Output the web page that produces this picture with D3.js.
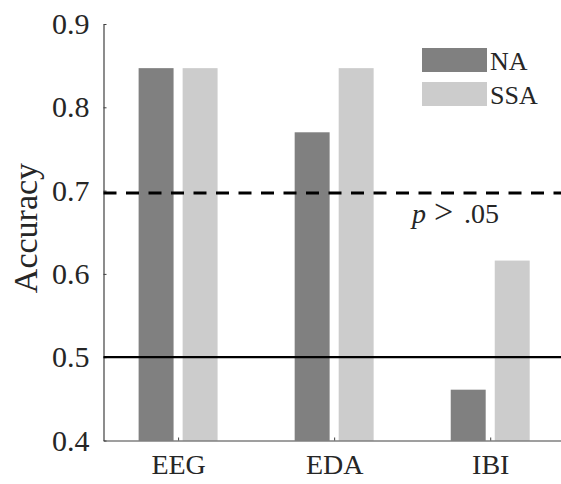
<!DOCTYPE html>
<html>
<head>
<meta charset="utf-8">
<script src="https://d3js.org/d3.v7.min.js"></script>
<style>
  body { margin: 0; background: #fff; }
  text { font-family: "Times New Roman", Times, "Liberation Serif", serif; fill: #262626; }
</style>
</head>
<body>
<div id="chart"></div>
<script>
var categories = ["EEG", "EDA", "IBI"];
var seriesNames = ["NA", "SSA"];
var naValues = [0.847, 0.770, 0.461];
var ssaValues = [0.847, 0.847, 0.616];
var yTicks = [0.4, 0.5, 0.6, 0.7, 0.8, 0.9];
var chanceLevel = 0.5;
var significanceLevel = 0.697;
var significanceLabel = ".05";

var colors = { NA: "#808080", SSA: "#cccccc" };
var serif = '"Times New Roman", Times, "Liberation Serif", serif';

var data = [];
categories.forEach(function(c, i) {
    data.push({ cat: i + 1, series: "NA", value: naValues[i] });
    data.push({ cat: i + 1, series: "SSA", value: ssaValues[i] });
});

var svg = d3.select("#chart")
            .append("svg")
            .attr("width", 561)
            .attr("height", 484);

// scales (category index on a linear axis, MATLAB style)
var x = d3.scaleLinear()
            .domain([0.522, 3.46])
            .range([103.5, 562]);
var y = d3.scaleLinear()
            .domain([0.4, 0.9])
            .range([440.5, 24]);

var barWidth = 0.224;
var offset = { NA: -0.141, SSA: 0.141 };

// bars
svg.selectAll("rect.bar")
    .data(data)
    .enter()
    .append("rect")
    .attr("class", "bar")
    .attr("x", function(d) { return x(d.cat + offset[d.series] - barWidth / 2); })
    .attr("y", function(d) { return y(d.value); })
    .attr("width", function(d) { return x(d.cat + barWidth / 2) - x(d.cat - barWidth / 2); })
    .attr("height", function(d) { return y(0.4) - y(d.value); })
    .attr("fill", function(d) { return colors[d.series]; });

// Y axis, ticks pointing inward
var yAxis = svg.append("g")
    .attr("transform", "translate(" + x(0.522) + ",0)")
    .call(d3.axisLeft(y).tickValues(yTicks).tickSize(-3).tickSizeOuter(0).tickPadding(14)
            .tickFormat(d3.format(".1f")));
yAxis.attr("font-family", serif);
yAxis.select(".domain").attr("stroke", "#404040").attr("stroke-width", 1.2);
yAxis.selectAll(".tick line").attr("stroke", "#404040");
yAxis.selectAll("text")
    .style("font-family", serif)
    .style("font-size", "30px")
    .attr("fill", "#262626");

// X axis
var xAxis = svg.append("g")
    .attr("transform", "translate(0," + y(0.4) + ")")
    .call(d3.axisBottom(x).tickValues([1, 2, 3]).tickSize(-3).tickSizeOuter(0).tickPadding(14)
            .tickFormat(function(d) { return categories[d - 1]; }));
xAxis.attr("font-family", serif);
xAxis.select(".domain").attr("stroke", "#404040").attr("stroke-width", 1.2);
xAxis.selectAll(".tick line").attr("stroke", "#404040");
xAxis.selectAll("text")
    .style("font-family", serif)
    .style("font-size", "28px")
    .attr("fill", "#262626");

// reference lines
svg.append("line")
    .attr("x1", x(0.522)).attr("x2", 561)
    .attr("y1", y(chanceLevel)).attr("y2", y(chanceLevel))
    .attr("stroke", "#000")
    .attr("stroke-width", 2.2);

svg.append("line")
    .attr("x1", x(0.522)).attr("x2", 561)
    .attr("y1", y(significanceLevel)).attr("y2", y(significanceLevel))
    .attr("stroke", "#000")
    .attr("stroke-width", 3)
    .attr("stroke-dasharray", "13,9.5");

// p > .05 label, spaced like the LaTeX original
var pLabel = svg.append("text")
    .attr("y", y(significanceLevel) + 30)
    .style("font-size", "28px");
pLabel.append("tspan").attr("x", 412).style("font-style", "italic").text("p");
pLabel.append("tspan").attr("x", 434).style("font-size", "34px").text(">");
pLabel.append("tspan").attr("x", 464).text(significanceLabel);

// y label
svg.append("text")
    .attr("transform", "translate(37," + 228 + ")rotate(-90)")
    .attr("text-anchor", "middle")
    .style("font-size", "34px")
    .text("Accuracy");

// legend
var legend = svg.append("g").attr("transform", "translate(422,48)");
seriesNames.forEach(function(s, i) {
    legend.append("rect")
        .attr("x", 0)
        .attr("y", i * 34)
        .attr("width", 65)
        .attr("height", 24)
        .attr("fill", colors[s]);
    legend.append("text")
        .attr("x", 68)
        .attr("y", i * 34 + 22)
        .style("font-size", "26px")
        .text(s);
});
</script>
</body>
</html>
